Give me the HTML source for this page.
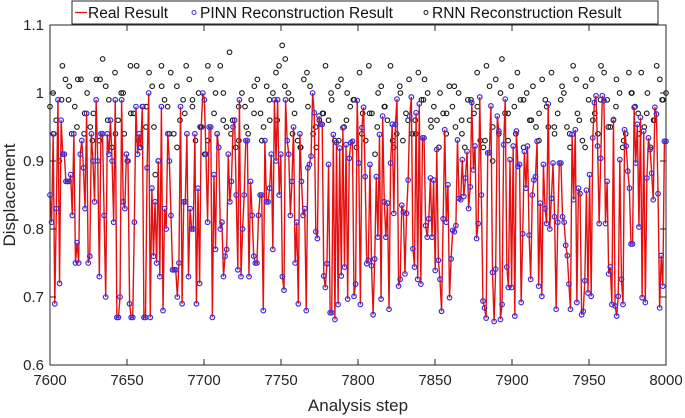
<!DOCTYPE html>
<html><head><meta charset="utf-8"><style>
body{margin:0;background:#fff;}
svg{display:block;font-family:"Liberation Sans",Arial,sans-serif;}
</style></head><body>
<svg id="chart" width="685" height="418" viewBox="0 0 685 418" xmlns="http://www.w3.org/2000/svg"></svg>
<script>
const xTicks=[7600,7650,7700,7750,7800,7850,7900,7950,8000];
const yTicks=[0.6,0.7,0.8,0.9,1.0,1.1];
const yTickLabels=["0.6","0.7","0.8","0.9","1","1.1"];
const pinnSeg1=[.85,.81,.94,.69,.83,.99,.72,.96,.91,.91,.87,.87,.87,.88,.82,.94,.75,.78,.75,.91,.93,.89,.83,.97,.75,.76,.94,.90,.84,.99,.90,.73,.94,.94,.82,.70,.94,.91,.96,.90,.81,.99,.67,.67,.70,.99,.84,.83,.91,.90,.69,.67,.67,.81,.98,.91,.94,.92,.98,.67,.67,.89,1.0,.67,.86,.76,.84,.75,.90,.73,.98,.68,.83,.80,.94,.90,.82,.74,.74,.74,.70,.75,.98,.69];
const pinnSeg2=[.84,.84,.94,.73,.83,.80,.80,.94,.69,.86,.72,.95,1.0,.99,.91,.81,.95,.95,.67,.88,.77,.94,.92,.80,.81,.73,.76,.77,.91,.84,.87,.95,.96,.85,.74,.99,.73,.80,.85,.93,.93,.73,.87,.82,.76,.75,.75,.82,.85,.85,.68,.93,.84,.84,.86,.91,.77,.99,.90,.99,.85,.91,.73,.71,.99,.93,.91,.82,.87,.95,.75,.81,.69,.94,.87,.82,.83,.68,.89];
const pinnSeg3=[.895,.907,1.0,.971,.796,.786,.966,.954,.954,.731,.714,.749,.895,.677,.677,.939,.667,.927,.689,.919,.731,.949,.744,.924,.697,.904,.927,.929,.701,.719,.989,.897,.689,.949,.979,.877,.749,.754,.895,.746,.674,.756,.877,.788,.939,.697,.966,.840,.788,.838,.682,.897,.954,.823,.954,.991,.716,.726,.835,.825,.734,.823,.872,.966,.994,.771,.744,.971,.726,.984,.719,.934,.934,.805,.788,.815,.875];
const pinnSeg4=[.788,.872,.739,.917,.754,.726,.679,.815,.946,.810,.865,.699,.756,.798,.796,.805,.931,.845,.843,.902,.848,.875,.914,.830,.862,.986,.887,.922,.786,.808,.994,.850,.694,.684,.669,.912,.912,.981,.736,.664,.741,.966,.944,.667,.689,.924,.991,.744,.714,.902,.714,.922,.672,.944,.892,.895,.692,.793,.914,.860,.922,.791,.726,.850,.872,.877,.929,.716,.838,.701,.895,.830,.808,.984,.800,.845,.897,.818,.682,.810];
const pinnSeg5=[.897,.897,.818,.810,.776,.761,.719,.682,.939,.843,.946,.692,.860,.852,.674,.679,.724,.857,.706,.880,.701,.934,.986,.996,.922,.808,.904,.996,.989,.808,.870,.734,.744,.689,.961,.687,.672,.701,.902,.726,.689,.946,.922,.885,.860,.778,.778,.979,.897,.954,.803,.964,.699,.944,.692,.875,.934,.917,.882,.843,.979,.969,.852,.684,.761,.716,.929,.929];
const rnnSeg1=[.98,1.0,.96,.90,1.04,1.02,.99,.94,.98,1.02,1.02,.94,1.0,.95,.97,1.02,.93,1.05,1.01,.99,.92,1.03,.96,1.0,.94];
const rnnSeg2=[.90,1.04,.97,1.04,.92,.98,.95,1.03,1.01,.88,.90,1.04,.99,.98,1.03,.94,1.01,.96,.99,1.04,1.02,.98,.93,1.0,.95];
const rnnSeg3=[.91,1.04,1.02,.97,.94,1.04,1.0,.95,1.06,.96,.92,.93,1.0,.98,.94,.99,1.01,1.02,.97,.95,1.01,.96,1.0,1.03,1.04];
const rnnSeg4=[1.07,1.05,1.0,.99,.97,.93,.92,1.02,1.03,1.01,.94,.92,.96,.97,1.04,.96,.99,.93,1.01,1.02,.95,1.0,.98,.99,.92];
const rnnSeg5=[1.03,.97,.93,1.04,.97,.91,1.0,1.01,.98,.96,1.04,.92,.94,1.01,.93,.97,1.02,.94,.96,1.03,.99,1.02,1.0,.96,.98];
const rnnSeg6=[.96,1.0,.97,.94,1.01,.98,.95,1.0,.96,.92,.99,.99,.97,1.03,.93,.92,1.04,1.01,.90,1.02,.94,1.05,.97,.93,1.01];
const rnnSeg7=[.98,1.03,.99,.92,1.0,.96,1.01,.95,.97,1.02,.99,.95,1.03,.94,.97,.99,1.0,.95,.92,1.04,1.02,.96,.93,1.01,.99];
const rnnSeg8=[1.02,.97,.94,1.04,1.03,.99,.95,.96,1.02,1.0,.92,.94,1.03,1.0,.98,.97,1.03,.95,1.0,.92,.96,1.04,1.02,.99,1.0];
const rnnExtra=[.94,.99,1.01,.95,.97,.93,1.02,.96,.94,1.0,.97,.93,.98,.95,1.01,.94,.92,.97,.99,.95,.93,1.0,.96,.94,.98,.95,.97,.93,.99,.96,1.01,.94,.92,.98,.95,.97,1.0,.93,.96,.99,.94,.97,.95,.98,.93,1.0,.96,.94,.99,.95,.92,.97,1.01,.94,.96,.98,.93,.95,1.0,.97,.94,.99,.96,.93,.98,.95,1.01,.94,.97,.92,.96,.99,.95,.98,.93,1.0,.94,.97,.96,.99];
const pinn=[].concat(pinnSeg1,pinnSeg2,pinnSeg3,pinnSeg4,pinnSeg5);
const rnn=[].concat(rnnSeg1,rnnSeg2,rnnSeg3,rnnSeg4,rnnSeg5,rnnSeg6,rnnSeg7,rnnSeg8);

const L=50,R=666,T=25,B=365,xMin=7600,xMax=8000,yMin=0.6,yMax=1.1;
const sx=v=>L+(v-xMin)/(xMax-xMin)*(R-L);
const sy=v=>B-(v-yMin)/(yMax-yMin)*(B-T);
const NS="http://www.w3.org/2000/svg";
const svg=document.getElementById('chart');
function mk(tag,attrs,parent){const e=document.createElementNS(NS,tag);for(const k in attrs)e.setAttribute(k,attrs[k]);(parent||svg).appendChild(e);return e;}

// RNN points
const gR=mk('g',{});


rnn.forEach((v,i)=>{const st=xMin+i*(xMax-xMin)/(rnn.length-1);
 const c=mk('circle',{cx:sx(st),cy:sy(v),r:2.3,fill:'none',stroke:'#1a1a1a','stroke-width':1.1},gR);
 
 });
rnnExtra.forEach((v,i)=>{const st=xMin+2.5+i*(xMax-xMin-5)/(rnnExtra.length-1);
 const c=mk('circle',{cx:sx(st),cy:sy(v),r:2.3,fill:'none',stroke:'#1a1a1a','stroke-width':1.1},gR);
 
 });

// real line
let d='';
pinn.forEach((v,i)=>{const st=xMin+i*(xMax-xMin)/(pinn.length-1);d+=(i?'L':'M')+sx(st).toFixed(2)+','+sy(v).toFixed(2);});
const line=mk('path',{d:d,fill:'none',stroke:'#e41010','stroke-width':1.4});



// PINN points
const gP=mk('g',{});


pinn.forEach((v,i)=>{const st=xMin+i*(xMax-xMin)/(pinn.length-1);
 const c=mk('circle',{cx:sx(st),cy:sy(v),r:2.3,fill:'none',stroke:'#3a2ee0','stroke-width':1.2},gP);
 
 });

// axes box
const box=mk('rect',{x:L,y:T,width:R-L,height:B-T,fill:'none',stroke:'#262626','stroke-width':1});


xTicks.forEach(t=>{const x=sx(t);
 mk('line',{x1:x,y1:B,x2:x,y2:B-6,stroke:'#262626'});mk('line',{x1:x,y1:T,x2:x,y2:T+6,stroke:'#262626'});
 const tx=mk('text',{x:x,y:B+20,'text-anchor':'middle','font-size':15,fill:'#262626'});tx.textContent=t;
 
 });
yTicks.forEach((t,i)=>{const y=sy(t);
 mk('line',{x1:L,y1:y,x2:L+6,y2:y,stroke:'#262626'});mk('line',{x1:R,y1:y,x2:R-6,y2:y,stroke:'#262626'});
 const tx=mk('text',{x:L-6,y:y+5,'text-anchor':'end','font-size':15,fill:'#262626'});tx.textContent=yTickLabels[i];
 
 });
const xt=mk('text',{x:(L+R)/2,y:411,'text-anchor':'middle','font-size':17,fill:'#262626'});xt.textContent='Analysis step';


const yt=mk('text',{x:0,y:0,'text-anchor':'middle','font-size':17,fill:'#262626',transform:'translate(15,'+((T+B)/2)+') rotate(-90)'});yt.textContent='Displacement';



// legend
const lg=mk('g',{});


mk('rect',{x:72,y:1,width:586,height:23,fill:'#fff',stroke:'#262626'},lg);
mk('line',{x1:75,y1:12.5,x2:87,y2:12.5,stroke:'#e41010','stroke-width':1.3},lg);
const t1=mk('text',{x:88,y:18,'font-size':15.5,fill:'#111'},lg);t1.textContent='Real Result';


mk('circle',{cx:194,cy:12.5,r:2,fill:'none',stroke:'#3a2ee0'},lg);
const t2=mk('text',{x:200,y:18,'font-size':15.5,fill:'#111'},lg);t2.textContent='PINN Reconstruction Result';


mk('circle',{cx:426,cy:12.5,r:2,fill:'none',stroke:'#1a1a1a'},lg);
const t3=mk('text',{x:432,y:18,'font-size':15.5,fill:'#111'},lg);t3.textContent='RNN Reconstruction Result';


</script>
</body></html>
